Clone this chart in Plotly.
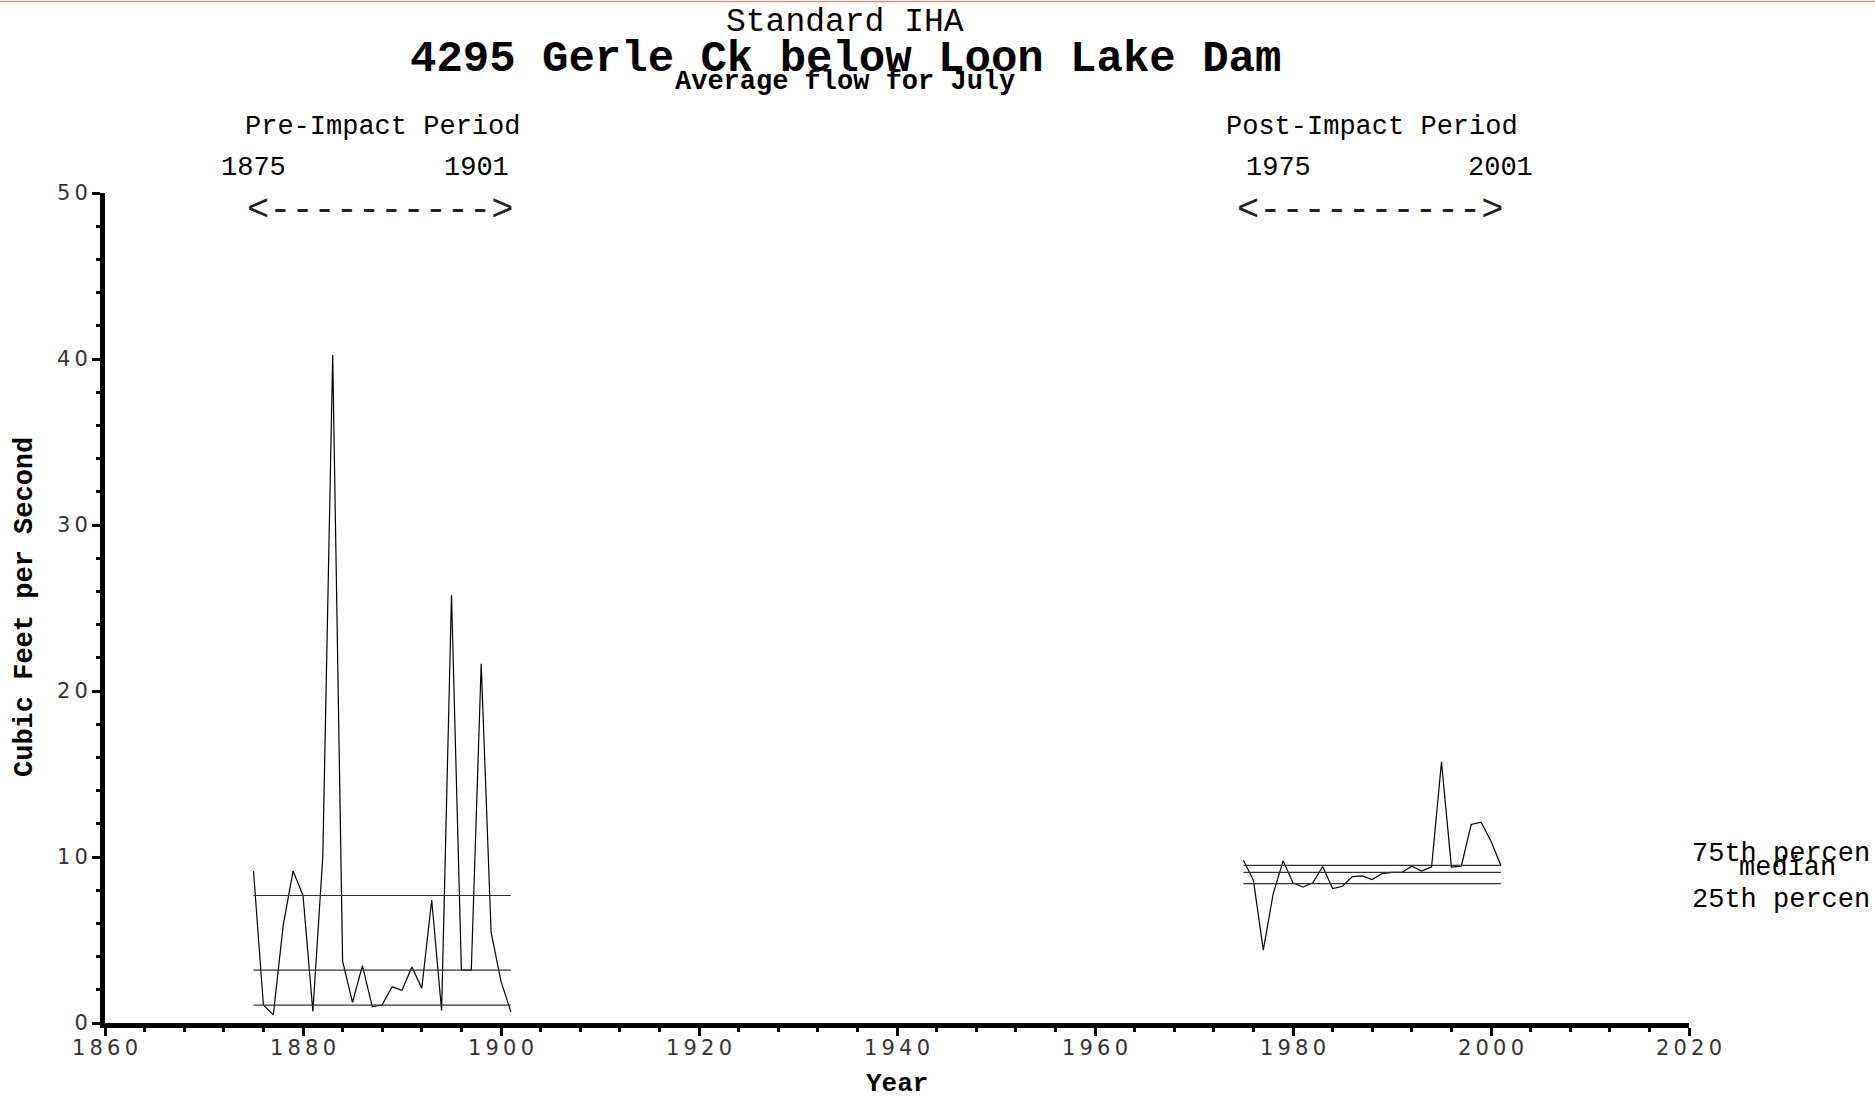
import plotly.graph_objects as go

# ---- data -------------------------------------------------------------
pre_years = list(range(1875, 1902))
pre_flow = [9.16, 1.08, 0.49, 5.88, 9.16, 7.68, 0.70, 10.05, 40.24, 3.72,
            1.24, 3.45, 0.97, 1.10, 2.18, 1.97, 3.37, 2.10, 7.41, 0.75,
            25.77, 3.18, 3.18, 21.64, 5.47, 2.51, 0.67]
pre_p25, pre_median, pre_p75 = 1.08, 3.18, 7.68

post_years = list(range(1975, 2002))
post_flow = [9.79, 8.60, 4.39, 7.80, 9.77, 8.44, 8.18, 8.44, 9.43, 8.10,
             8.24, 8.82, 8.86, 8.64, 9.00, 9.07, 9.07, 9.45, 9.15, 9.41,
             15.73, 9.39, 9.45, 11.96, 12.10, 10.95, 9.49]
post_p25, post_median, post_p75 = 8.40, 9.07, 9.49

x_ticks = [1860, 1880, 1900, 1920, 1940, 1960, 1980, 2000, 2020]
y_ticks = [0, 10, 20, 30, 40, 50]
percentile_labels = ["75th percen", "median", "25th percen"]

# ---- page geometry (pixels) -------------------------------------------
PAGE_W, PAGE_H = 1875, 1099
L, R, T, B = 105, 1689, 193, 1023
W, H = R - L, B - T


def px(x):
    return (x - L) / W


def py(y):
    return (B - y) / H


def spaced(v):
    # tick labels are drawn with a little extra room between the digits
    return "\u2009".join(str(v))


MONO = "Liberation Mono"
TICKFONT = dict(family="DejaVu Sans", size=21, color="#333")

fig = go.Figure()

line_style = dict(color="black", width=1.2)
ref_style = dict(color="#333", width=1.2)

# flow series
fig.add_trace(go.Scatter(x=pre_years, y=pre_flow, mode="lines", line=line_style))
fig.add_trace(go.Scatter(x=post_years, y=post_flow, mode="lines", line=line_style))

# percentile reference lines for each period
for yrs, vals in ((pre_years, (pre_p75, pre_median, pre_p25)),
                  (post_years, (post_p75, post_median, post_p25))):
    for v in vals:
        fig.add_trace(go.Scatter(x=[yrs[0], yrs[-1]], y=[v, v], mode="lines",
                                 line=ref_style))

ann = []


def text(x, y, s, size, bold=False, xref="paper", yref="paper", xanchor="center",
         yanchor="middle", angle=0, yshift=0, color="black"):
    ann.append(dict(x=x, y=y, xref=xref, yref=yref, text=s, showarrow=False,
                    xanchor=xanchor, yanchor=yanchor, textangle=angle, yshift=yshift,
                    font=dict(family=MONO, size=size, color=color,
                              weight="bold" if bold else "normal")))


# titles
text(px(845), py(22.5), "Standard IHA", 33)
text(px(845), py(59), "4295 Gerle Ck below Loon Lake Dam", 44, bold=True)
text(px(845), py(82.5), "Average flow for July", 27, bold=True)

# period headers
pre_mid = (pre_years[0] + pre_years[-1]) / 2
post_mid = (post_years[0] + post_years[-1]) / 2
text(pre_mid, py(126.5), "Pre-Impact Period", 27, xref="x")
text(post_mid, py(126.5), "Post-Impact Period", 27, xref="x")
text(pre_years[0], py(167.5), str(pre_years[0]), 27, xref="x")
text(pre_years[-1], py(167.5), str(pre_years[-1]), 27, xref="x", xanchor="right")
text(post_years[0], py(167.5), str(post_years[0]), 27, xref="x", xanchor="left")
text(post_years[-1], py(167.5), str(post_years[-1]), 27, xref="x")
text(pre_mid - 0.2, py(209.5), "<---------->", 37, xref="x", color="#222")
text(post_mid - 0.2, py(209.5), "<---------->", 37, xref="x", color="#222")

# percentile labels on the right
text(px(1690), post_p75, percentile_labels[0], 27, yref="y", xanchor="left", yshift=11.5)
text(px(1787), post_median, percentile_labels[1], 27, yref="y", yshift=4.5)
text(px(1690), post_p25, percentile_labels[2], 27, yref="y", xanchor="left", yshift=-16.5)

# axis titles
text(px(897), py(1083.5), "Year", 26, bold=True)
text(px(25), py(607), "Cubic Feet per Second", 27, bold=True, angle=-90)

axis_common = dict(showline=True, linewidth=5, linecolor="black", showgrid=False,
                   zeroline=False, ticks="outside", ticklen=8, tickwidth=3,
                   tickcolor="black", tickfont=TICKFONT)

fig.update_layout(
    width=PAGE_W, height=PAGE_H,
    margin=dict(l=L, r=PAGE_W - R, t=T, b=PAGE_H - B, autoexpand=False),
    paper_bgcolor="white", plot_bgcolor="white",
    showlegend=False,
    xaxis=dict(range=[x_ticks[0], x_ticks[-1]], tickvals=x_ticks,
               ticktext=[spaced(v) for v in x_ticks], ticklabelstandoff=-6,
               **axis_common,
               minor=dict(dtick=4, tick0=x_ticks[0], ticks="outside", ticklen=4,
                          tickwidth=3, tickcolor="black", showgrid=False)),
    yaxis=dict(range=[y_ticks[0], y_ticks[-1]], tickvals=y_ticks,
               ticktext=[spaced(v) for v in y_ticks], **axis_common,
               minor=dict(dtick=2, tick0=0, ticks="outside", ticklen=4,
                          tickwidth=3, tickcolor="black", showgrid=False)),
    annotations=ann,
    shapes=[dict(type="line", xref="paper", yref="paper",
                 x0=px(0), x1=px(PAGE_W), y0=py(1.5), y1=py(1.5),
                 line=dict(color="#c99494", width=1.5))],
)

fig.write_html("out.html")
